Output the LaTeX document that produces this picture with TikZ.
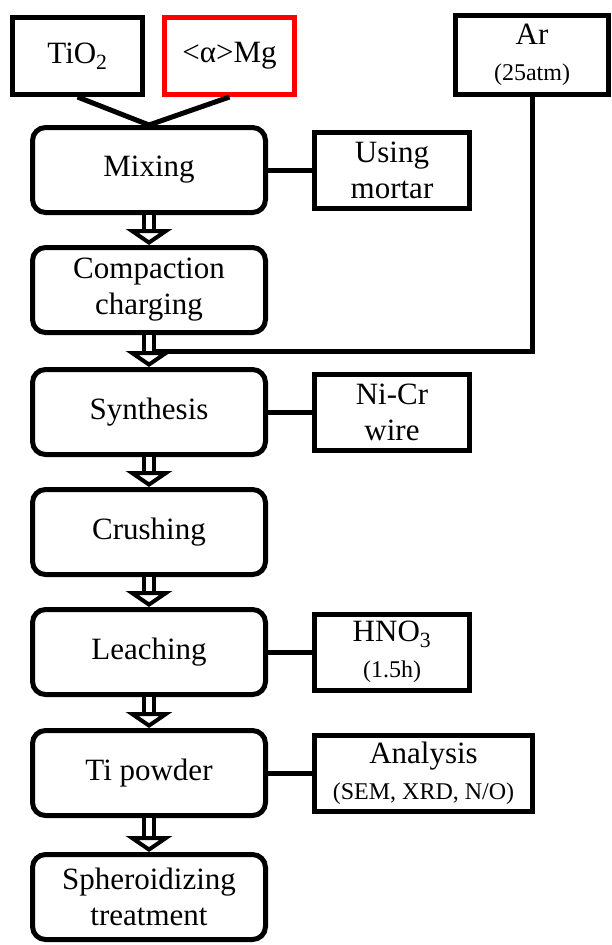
\documentclass[tikz,border=0pt]{standalone}
\usepackage{fontspec}
\setmainfont{Liberation Serif}
\usetikzlibrary{positioning,arrows.meta,calc}

\begin{document}
\begin{tikzpicture}[x=1pt,y=-1pt,
	proc/.style={draw,rounded corners=13pt,line width=5pt,minimum width=233pt,minimum height=85pt,align=center,inner sep=2pt,font=\fontsize{31}{36}\selectfont},
	side/.style={draw,line width=5pt,minimum width=155pt,minimum height=76pt,align=center,inner sep=2pt,font=\fontsize{31}{36}\selectfont},
	src/.style={draw,line width=5pt,minimum width=130pt,minimum height=77pt,align=center,inner sep=2pt,font=\fontsize{31}{36}\selectfont},
	flow/.style={double=white,double distance=6pt,line width=4pt,-{Triangle[open,width=46pt,length=16pt,line width=4pt]}},
	link/.style={line width=5pt},
]
\useasboundingbox (0,0) rectangle (612,945);

% starting materials
\node[src] (tio) at (77.5,56) {TiO\textsubscript{2}};
\node[src,draw=red] (mg) at (229.5,56) {<α>Mg};
\node[src,minimum width=153pt,minimum height=79pt] (ar) at (532,55) {Ar\\{\fontsize{24}{28}\selectfont (25atm)}};

% process steps
\node[proc] (mix) at (149,170) {Mixing};
\node[proc,below=30pt of mix] (comp) {Compaction\\charging};
\node[proc,below=32pt of comp] (synth) {Synthesis};
\node[proc,below=30pt of synth] (crush) {Crushing};
\node[proc,below=30pt of crush] (leach) {Leaching};
\node[proc,below=31pt of leach] (ti) {Ti powder};
\node[proc,below=34pt of ti] (sph) {Spheroidizing\\treatment};

% conditions
\node[side,right=44pt of mix] (mortar) {Using\\mortar};
\node[side,right=44pt of synth] (nicr) {Ni-Cr\\wire};
\node[side,right=44pt of leach] (hno) {HNO\textsubscript{3}\\{\fontsize{24}{28}\selectfont (1.5h)}};
\node[side,minimum width=218pt,right=44pt of ti] (ana) {Analysis\\{\fontsize{24}{28}\selectfont (SEM, XRD, N/O)}};

\draw[link] (tio.south) -- (mix.north);
\draw[link] (mg.south) -- (mix.north);

\draw[flow] (mix) -- (comp);
\draw[flow] (comp) -- (synth);
\draw[flow] (synth) -- (crush);
\draw[flow] (crush) -- (leach);
\draw[flow] (leach) -- (ti);
\draw[flow] (ti) -- (sph);

\coordinate (arin) at ($(comp.south)!0.5!(synth.north)+(7,0)$);
\draw[link] (ar.south) |- (arin);

\draw[link] (mix) -- (mortar);
\draw[link] (synth) -- (nicr);
\draw[link] (leach) -- (hno);
\draw[link] (ti) -- (ana);
\end{tikzpicture}
\end{document}
